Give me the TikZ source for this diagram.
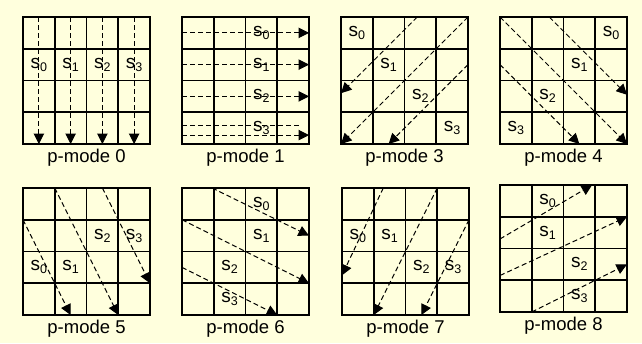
\documentclass[tikz,border=0pt]{standalone}
\usepackage{fontspec}
\setmainfont{Liberation Sans}
\usepackage{xcolor}
\usetikzlibrary{arrows.meta}
\definecolor{paper}{HTML}{FFFFDD}
\newcommand{\sn}[1]{s\raisebox{-3pt}{\fontsize{12.5}{13}\selectfont #1}}

\begin{document}
\begin{tikzpicture}[x=1pt,y=-1pt,
  cellline/.style={line width=1.6pt},
  board/.pic={\draw[cellline] (0,0) rectangle (4,4);
              \foreach \k in {1,2,3} {\draw[cellline] (\k,0) -- (\k,4); \draw[cellline] (0,\k) -- (4,\k);}},
  trail/.style={line width=1pt,dash pattern=on 5pt off 3pt},
  flow/.style={trail,-{Triangle[length=10.5pt,width=10.5pt]}},
  cellno/.style={font=\fontsize{19}{20}\selectfont,inner sep=0pt},
  modelabel/.style={font=\fontsize{18.5}{20}\selectfont,inner sep=0pt},
  unitcell/.style={x=31.75pt,y=-31.75pt}
]
\fill[paper] (0,0) rectangle (642,343);
\useasboundingbox (0,0) rectangle (642,343);

% p-mode 0
\begin{scope}[shift={(23,17)},unitcell]
\pic {board};
\foreach \c in {0,...,3} {
  \draw[flow] (\c+0.5,0) -- (\c+0.5,4);
  \node[cellno] (m0s\c) at (\c+0.5,1.5) {\sn{\c}};
}
\node[modelabel] (m0) at (2,4.43) {p-mode 0};
\end{scope}

% p-mode 1
\begin{scope}[shift={(182,17)},unitcell]
\pic {board};
\foreach \r/\y in {0/0.5,1/1.5,2/2.5,3/3.72} {
  \draw[flow] (0,\y) -- (4,\y);
  \node[cellno] (m1s\r) at (2.5,\r+0.5) {\sn{\r}};
}
\draw[trail] (0,3.43) -- (3.77,3.43);
\node[modelabel] (m1) at (2,4.43) {p-mode 1};
\end{scope}

% p-mode 3
\begin{scope}[shift={(341,17)},unitcell]
\pic {board};
\foreach \k in {0,...,3} \node[cellno] (m3s\k) at (\k+0.5,\k+0.5) {\sn{\k}};
\draw[flow] (2.4,0) -- (0,2.4);
\draw[flow] (4,0) -- (0,4);
\draw[flow] (4,1.5) -- (1.5,4);
\node[modelabel] (m3) at (2,4.43) {p-mode 3};
\end{scope}

% p-mode 4
\begin{scope}[shift={(500,17)},unitcell]
\pic {board};
\foreach \k in {0,...,3} \node[cellno] (m4s\k) at (3.5-\k,\k+0.5) {\sn{\k}};
\draw[flow] (0,0) -- (4,4);
\draw[flow] (1.55,0) -- (4,2.45);
\draw[flow] (0,1.5) -- (2.5,4);
\node[modelabel] (m4) at (2,4.43) {p-mode 4};
\end{scope}

% p-mode 5
\begin{scope}[shift={(23,188)},unitcell]
\pic {board};
\foreach \k/\x/\y in {0/0.5/2.5,1/1.5/2.5,2/2.5/1.5,3/3.5/1.5}
  \node[cellno] (m5s\k) at (\x,\y) {\sn{\k}};
\draw[flow] (0,1) -- (1.5,4);
\draw[flow] (1,0) -- (3,4);
\draw[flow] (2.5,0) -- (4,3);
\node[modelabel] (m5) at (2,4.43) {p-mode 5};
\end{scope}

% p-mode 6
\begin{scope}[shift={(182,188)},unitcell]
\pic {board};
\foreach \k/\x/\y in {0/2.5/0.5,1/2.5/1.5,2/1.5/2.5,3/1.5/3.5}
  \node[cellno] (m6s\k) at (\x,\y) {\sn{\k}};
\draw[flow] (0.95,0) -- (4,1.5);
\draw[flow] (0,1) -- (4,3);
\draw[flow] (0,2.5) -- (3,4);
\node[modelabel] (m6) at (2,4.43) {p-mode 6};
\end{scope}

% p-mode 7
\begin{scope}[shift={(342,188)},unitcell]
\pic {board};
\foreach \k/\x/\y in {0/0.5/1.5,1/1.5/1.5,2/2.5/2.5,3/3.5/2.5}
  \node[cellno] (m7s\k) at (\x,\y) {\sn{\k}};
\draw[flow] (1.3,0) -- (0,2.75);
\draw[flow] (3,0) -- (1,4);
\draw[flow] (4,1) -- (2.5,4);
\node[modelabel] (m7) at (2,4.43) {p-mode 7};
\end{scope}

% p-mode 8
\begin{scope}[shift={(500,185)},unitcell]
\pic {board};
\foreach \k/\x/\y in {0/1.5/0.5,1/1.5/1.5,2/2.5/2.5,3/2.5/3.5}
  \node[cellno] (m8s\k) at (\x,\y) {\sn{\k}};
\draw[flow] (0,1.7) -- (2.9,0);
\draw[flow] (0,2.85) -- (4,1);
\draw[flow] (1,4) -- (4,2.5);
\node[modelabel] (m8) at (2,4.43) {p-mode 8};
\end{scope}
\end{tikzpicture}
\end{document}
